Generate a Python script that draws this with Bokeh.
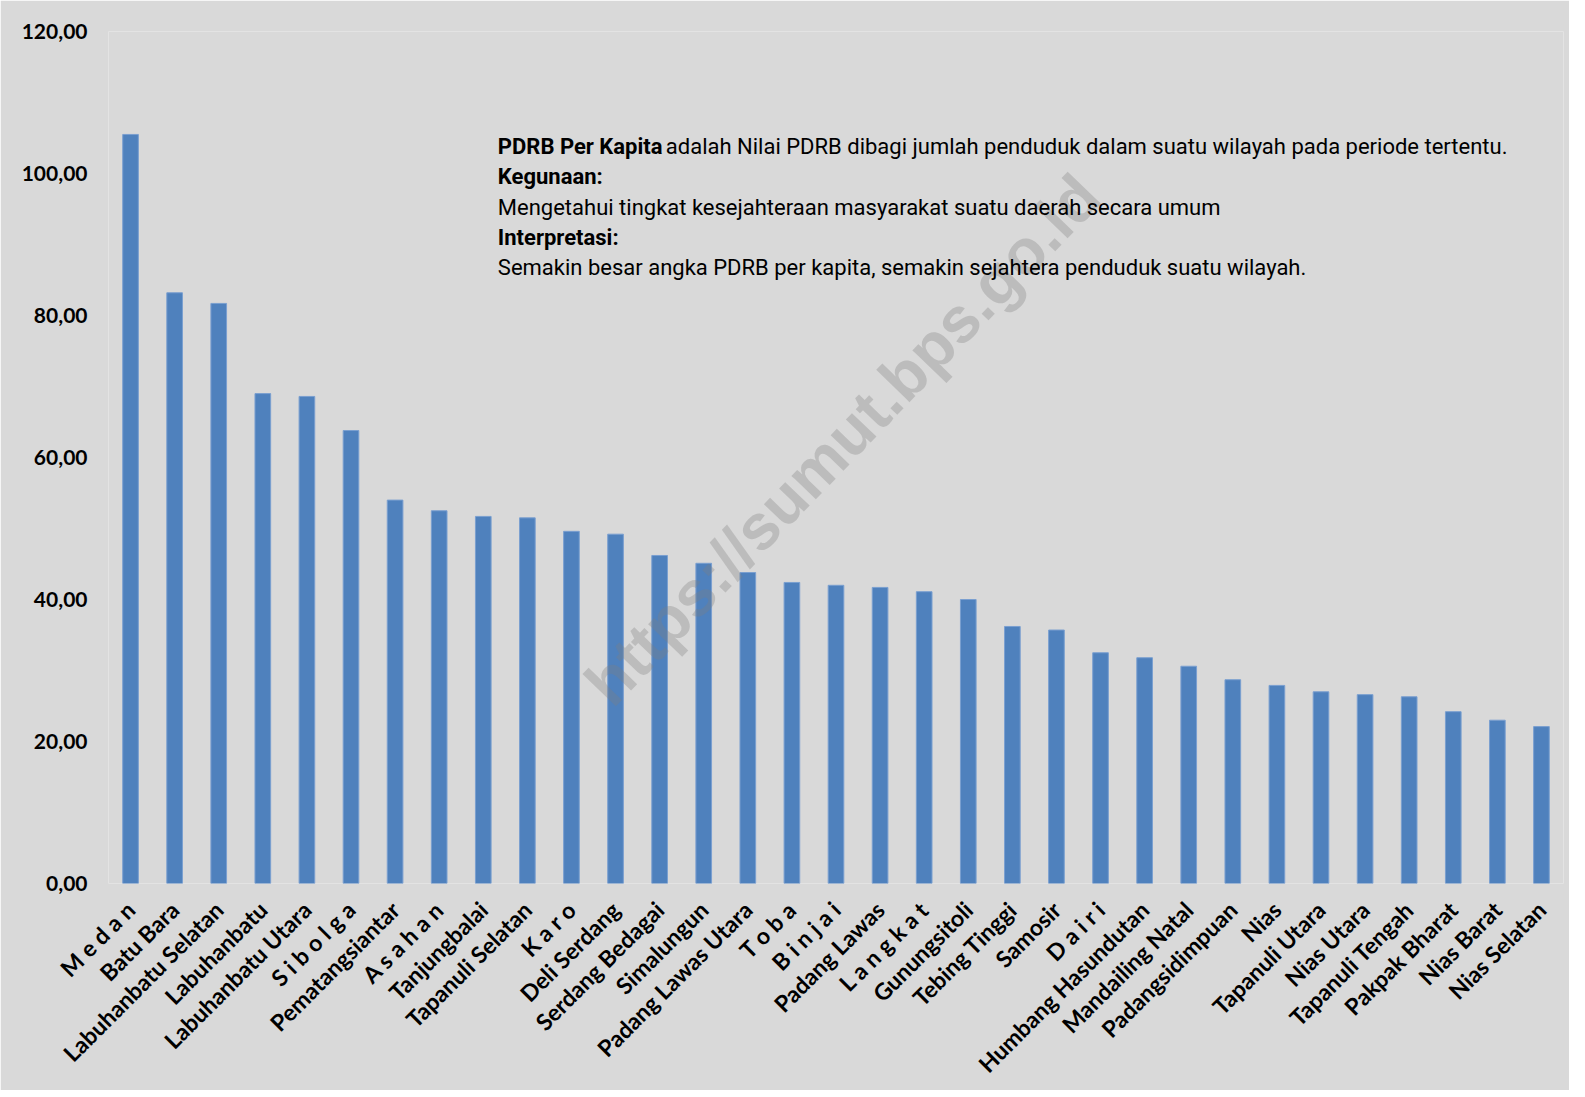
import math
from bokeh.plotting import figure
from bokeh.models import Label, FixedTicker, CustomJSTickFormatter, FactorRange, Range1d, ColumnDataSource
from bokeh.embed import file_html
from bokeh.resources import INLINE

regions = ["M e d a n", "Batu Bara", "Labuhanbatu Selatan", "Labuhanbatu", "Labuhanbatu Utara",
           "S i b o l g a", "Pematangsiantar", "A s a h a n", "Tanjungbalai", "Tapanuli Selatan",
           "K a r o", "Deli Serdang", "Serdang Bedagai", "Simalungun", "Padang Lawas Utara",
           "T o b a", "B i n j a i", "Padang Lawas", "L a n g k a t", "Gunungsitoli",
           "Tebing Tinggi", "Samosir", "D a i r i", "Humbang Hasundutan", "Mandailing Natal",
           "Padangsidimpuan", "Nias", "Tapanuli Utara", "Nias Utara", "Tapanuli Tengah",
           "Pakpak Bharat", "Nias Barat", "Nias Selatan"]
pdrb_per_kapita = [105.5, 83.2, 81.7, 69.0, 68.6,
                   63.8, 54.0, 52.5, 51.7, 51.5,
                   49.6, 49.2, 46.2, 45.1, 43.8,
                   42.4, 42.0, 41.7, 41.1, 40.0,
                   36.2, 35.7, 32.5, 31.8, 30.6,
                   28.7, 27.9, 27.0, 26.6, 26.3,
                   24.2, 23.0, 22.1]
y_ticks = [0, 20, 40, 60, 80, 100, 120]

note_lines = [
    ("Kegunaan:", "bold"),
    ("Mengetahui tingkat kesejahteraan masyarakat suatu daerah secara umum", "normal"),
    ("Interpretasi:", "bold"),
    ("Semakin besar angka PDRB per kapita, semakin sejahtera penduduk suatu wilayah.", "normal"),
]
note_head_bold = "PDRB Per Kapita"
note_head_rest = "adalah Nilai PDRB dibagi jumlah penduduk dalam suatu wilayah pada periode tertentu."
watermark = "https://sumut.bps.go.id"

BG = "#d9d9d9"
NOTE_FONT = "Roboto"
NOTE_SIZE = "22px"

src = ColumnDataSource(dict(region=regions, value=pdrb_per_kapita))

p = figure(x_range=FactorRange(*regions, range_padding=0), y_range=Range1d(0, 120),
           frame_width=1455, frame_height=852,
           min_border_left=108, min_border_right=6, min_border_top=31, min_border_bottom=198,
           output_backend="svg", toolbar_location=None)

p.vbar(x="region", top="value", width=0.355, source=src,
       fill_color="#4f81bd", line_color="#7a9fd0", line_width=1)

p.background_fill_color = BG
p.border_fill_color = BG
p.outline_line_color = None
p.xgrid.grid_line_color = None
p.ygrid.grid_line_color = None

ya = p.yaxis[0]
ya.ticker = FixedTicker(ticks=y_ticks)
ya.formatter = CustomJSTickFormatter(code="return tick.toFixed(2).replace('.', ',');")
ya.axis_line_color = None
ya.major_tick_line_color = None
ya.minor_tick_line_color = None
ya.major_label_standoff = 15
ya.major_label_text_font = "Lato"
ya.major_label_text_font_style = "bold"
ya.major_label_text_font_size = "21px"
ya.major_label_text_color = "black"

xa = p.xaxis[0]
xa.axis_line_color = None
xa.major_tick_line_color = None
xa.major_label_orientation = math.pi / 4
xa.major_label_standoff = 16
xa.major_label_text_font = "Lato"
xa.major_label_text_font_style = "bold"
xa.major_label_text_font_size = "23px"
xa.major_label_text_color = "black"

# watermark
p.add_layout(Label(x=16.65, y=62.5, text=watermark, angle=46, angle_units="deg",
                   text_align="center", text_baseline="middle",
                   text_font="Liberation Sans", text_font_style="bold", text_font_size="64px",
                   text_color="#7f7f7f", text_alpha=0.32))

# note text
note_x = 8.83
p.add_layout(Label(x=note_x, y=103.8, text=note_head_bold, text_baseline="middle",
                   text_font=NOTE_FONT, text_font_style="bold", text_font_size=NOTE_SIZE,
                   text_color="black"))
p.add_layout(Label(x=note_x, y=103.8, x_offset=168, text=note_head_rest, text_baseline="middle",
                   text_font=NOTE_FONT, text_font_size=NOTE_SIZE, text_color="black"))
for i, (txt, style) in enumerate(note_lines):
    p.add_layout(Label(x=note_x, y=103.8 - 4.27 * (i + 1), text=txt, text_baseline="middle",
                       text_font=NOTE_FONT, text_font_style=style, text_font_size=NOTE_SIZE,
                       text_color="black"))

open("out.html", "w").write(file_html(p, INLINE))
